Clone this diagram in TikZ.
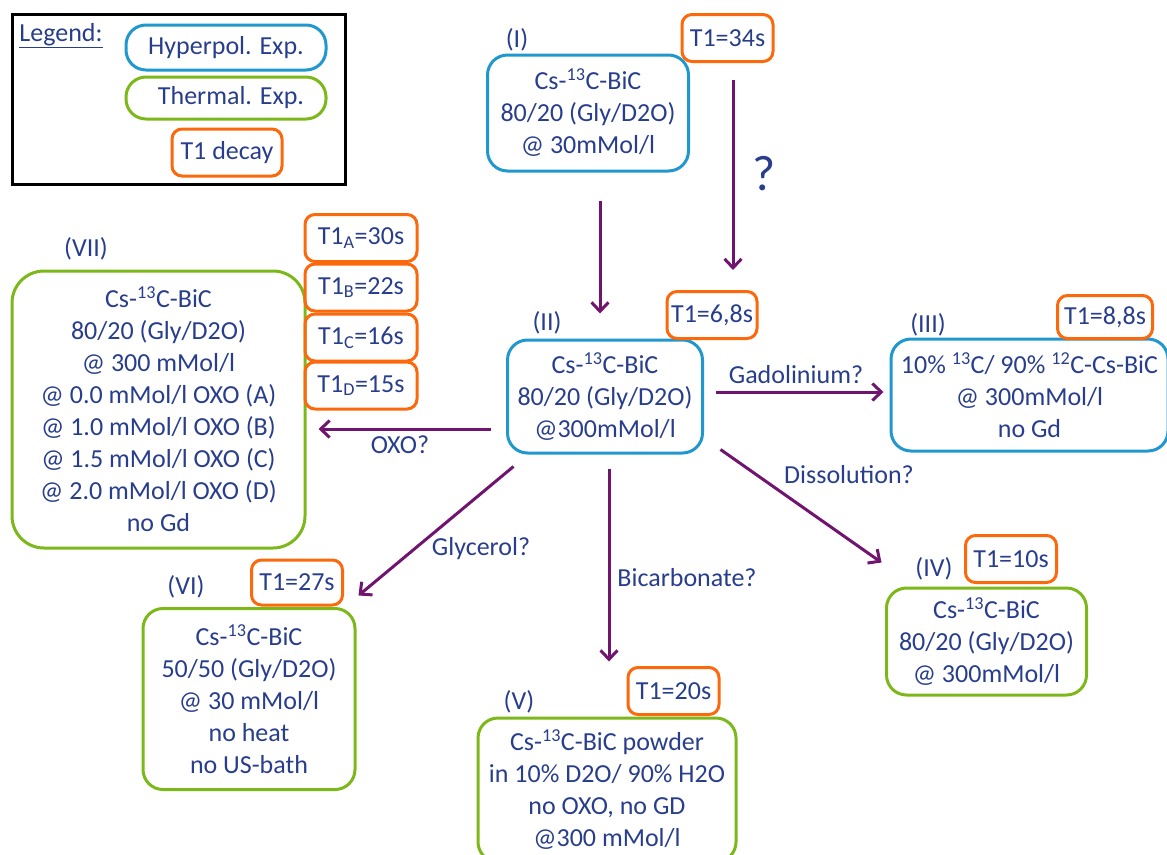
\documentclass[tikz,border=0pt]{standalone}
\usepackage{fontspec}
\setmainfont{Carlito}
\usepackage{xcolor}
\usetikzlibrary{positioning,arrows.meta,calc}
\definecolor{exptext}{RGB}{40,62,140}
\definecolor{expblue}{RGB}{32,152,206}
\definecolor{expgreen}{RGB}{124,184,26}
\definecolor{exporange}{RGB}{252,104,12}
\definecolor{exppurple}{RGB}{112,20,112}

\begin{document}
\begin{tikzpicture}[x=1pt, y=-1pt, every node/.style={font=\fontsize{26}{32}\selectfont, text=exptext}]
  \tikzset{
    hyper/.style={draw=expblue, line width=3pt, rounded corners=20pt, align=center, inner sep=0pt},
    therm/.style={draw=expgreen, line width=3pt, rounded corners=20pt, align=center, inner sep=0pt},
    tdecay/.style={draw=exporange, line width=3pt, rounded corners=10pt, align=center, inner sep=0pt, minimum width=91pt, minimum height=47pt},
    flow/.style={draw=exppurple, line width=3pt, -{Straight Barb[length=9pt,width=17pt]}}
  }
  \useasboundingbox (0,0) rectangle (1167,854);
  \clip (0,0) rectangle (1167,854);

  % --- legend ---
  \node[draw=black, line width=3pt, minimum width=333pt, minimum height=170pt] (legend) at (178.5,99) {};
  \node (legtitle) at (61,36) {\underline{Legend:}};
  \node[hyper, minimum width=200pt, minimum height=45pt] (leghyper) at (226,47.5) {Hyperpol. Exp.};
  \node[therm, minimum width=200pt, minimum height=42pt] (legtherm) at (226,98) {\hspace{10pt}Thermal. Exp.};
  \node[tdecay, minimum width=110pt] (legdecay) at (227,152.5) {T1 decay};

  % --- hyperpolarised samples ---
  \node[hyper, minimum width=201pt, minimum height=116pt] (I) at (588,113)
    {Cs-\textsuperscript{13}C-BiC\\80/20 (Gly/D2O)\\@ 30mMol/l};
  \node (labI) at (517,40) {(I)};
  \node[tdecay] (tI) at (727.5,38) {T1=34s};

  \node[hyper, minimum width=195pt, minimum height=113pt] (II) at (605,396.5)
    {Cs-\textsuperscript{13}C-BiC\\80/20 (Gly/D2O)\\@300mMol/l};
  \node (labII) at (547,323) {(II)};
  \node[tdecay, minimum width=90pt] (tII) at (712,315) {T1=6,8s};

  \node[hyper, minimum width=277pt, minimum height=112pt] (III) at (1029.5,395)
    {10\% \textsuperscript{13}C/ 90\% \textsuperscript{12}C-Cs-BiC\\@ 300mMol/l\\no Gd};
  \node (labIII) at (928,325) {(III)};
  \node[tdecay, minimum width=95pt, minimum height=43pt] (tIII) at (1105,317) {T1=8,8s};

  % --- thermal samples ---
  \node[therm, minimum width=200pt, minimum height=107pt] (IV) at (986.5,641.5)
    {Cs-\textsuperscript{13}C-BiC\\80/20 (Gly/D2O)\\@ 300mMol/l};
  \node (labIV) at (934,569) {(IV)};
  \node[tdecay] (tIV) at (1011,559) {T1=10s};

  \node[therm, minimum width=258pt, minimum height=144pt] (V) at (607,790)
    {Cs-\textsuperscript{13}C-BiC powder\\in 10\% D2O/ 90\% H2O\\no OXO, no GD\\@300 mMol/l};
  \node (labV) at (519,702) {(V)};
  \node[tdecay] (tV) at (673.5,691) {T1=20s};

  \node[therm, minimum width=212pt, minimum height=181pt] (VI) at (249,699)
    {Cs-\textsuperscript{13}C-BiC\\50/50 (Gly/D2O)\\@ 30 mMol/l\\no heat\\no US-bath};
  \node (labVI) at (186,587) {(VI)};
  \node[tdecay, minimum height=45pt] (tVI) at (297,582.5) {T1=27s};

  \node[therm, rounded corners=32pt, minimum width=293pt, minimum height=277pt] (VII) at (158.5,409.5)
    {Cs-\textsuperscript{13}C-BiC\\80/20 (Gly/D2O)\\@ 300 mMol/l\\@ 0.0 mMol/l OXO (A)\\@ 1.0 mMol/l OXO (B)\\@ 1.5 mMol/l OXO (C)\\@ 2.0 mMol/l OXO (D)\\no Gd};
  \node (labVII) at (86,249) {(VII)};
  \node[tdecay, minimum width=112pt] (tVIIa) at (361,238) {T1\textsubscript{A}=30s};
  \node[tdecay, minimum width=112pt] (tVIIb) at (361,287.5) {T1\textsubscript{B}=22s};
  \node[tdecay, minimum width=112pt] (tVIIc) at (361,337.5) {T1\textsubscript{C}=16s};
  \node[tdecay, minimum width=112pt] (tVIId) at (361,385.5) {T1\textsubscript{D}=15s};

  % --- arrows between the samples ---
  \draw[flow] ($(I.south)+(12,28)$) -- ($(II.north)+(-5,-25)$);
  \draw[flow] ($(tI.south)+(5.5,17)$) -- ($(tII.north)+(21,-20)$);
  \node[font=\fontsize{50}{50}\selectfont] (quest) at (764,174) {?};
  \draw[flow] ($(II.east)+(11.5,-4.5)$) -- ($(III.west)+(-6,-3)$);
  \draw[flow] ($(II.west)+(-15.5,32.5)$) -- ($(VII.east)+(12,19.5)$);
  \draw[flow] ($(II.south west)+(7.5,12)$) -- ($(VI.north east)+(2,-11.5)$);
  \draw[flow] ($(II.south)+(4,14)$) -- ($(V.north)+(2,-55)$);
  \draw[flow] ($(II.south east)+(16.5,-5)$) -- ($(IV.north west)+(-3.5,-24)$);

  \node (gado) at (796,375) {Gadolinium?};
  \node (oxo) at (400,445) {OXO?};
  \node (glyc) at (481,549) {Glycerol?};
  \node (bicarb) at (687,578) {Bicarbonate?};
  \node (dissol) at (849,475) {Dissolution?};
\end{tikzpicture}
\end{document}
